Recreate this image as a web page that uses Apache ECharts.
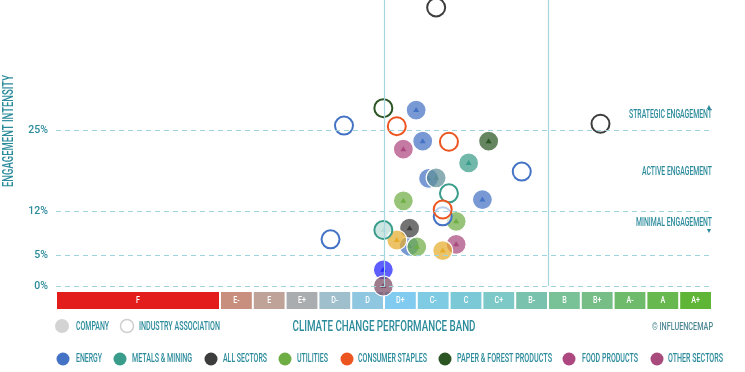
<!DOCTYPE html>
<html><head><meta charset="utf-8">
<script src="https://cdn.jsdelivr.net/npm/echarts@6/dist/echarts.min.js"></script>
<style>html,body{margin:0;padding:0;background:#fff}#c{width:745px;height:372px}</style>
</head><body><div id="c"></div>
<script>
// ---- data ----
const bandNames = ['F','E-','E','E+','D-','D','D+','C-','C','C+','B-','B','B+','A-','A','A+'];
const bandWidths = [5,1,1,1,1,1,1,1,1,1,1,1,1,1,1,1];
const bandColors = ['#e31c1c','#c98f7e','#bfa398','#a9adb0','#9fbfcd','#8fc7e1','#80cbef','#7fcbe4','#7bc9d6','#7cc9c8','#79c2ad','#79c197','#76be86','#6ebb6b','#66b84f','#5fb536'];
const yTicks = [0,5,12,25];
const vLines = [10,15];

const sectorNames = ['ENERGY','METALS & MINING','ALL SECTORS','UTILITIES','CONSUMER STAPLES','PAPER & FOREST PRODUCTS','FOOD PRODUCTS','OTHER SECTORS'];
const sectorColors = ['#4472c4','#3a9d8b','#3d3d3d','#6fad45','#ec5520','#2b5624','#ad4780','#a84a7c'];

// [band position, engagement intensity %]
const energyCompany = [[10.98,28.3],[11.18,23.3],[11.36,17.3],[13.0,13.9],[10.77,6.45]];
const energyAssoc = [[8.78,25.8],[14.2,18.4],[11.79,11.2],[8.37,7.5]];
const metalsCompany = [[12.58,19.8],[9.98,9.0]];
const metalsAssoc = [[11.98,14.9],[9.98,9.0]];
const allCompany = [[10.78,9.3]];
const allAssoc = [[11.59,44.8],[16.6,26.1]];
const utilitiesCompany = [[10.59,13.7],[12.2,10.4],[11.0,6.3]];
const consumerAssoc = [[10.39,25.7],[11.98,23.2],[11.79,12.3]];
const paperCompany = [[13.19,23.3]];
const paperAssoc = [[9.98,28.6]];
const foodCompany = [[10.59,22.0]];
const otherCompany = [[12.2,6.7]];
const goldCompany = [[10.39,7.4],[11.79,5.7]];
const blueCompany = [[9.98,2.6]];
const mauveCompany = [[9.98,0]];
const greyTealCompany = [[11.59,17.4]];

// ---- rendering ----
const FONT = 'Roboto, "Liberation Sans", sans-serif';
const W = '500 ';
const TEAL = '#2b8b9b';
const mctx = document.createElement('canvas').getContext('2d');
function T(text, x, y, size, width, align, color, rotation){
  const f = W + size + 'px ' + FONT;
  mctx.font = f;
  const s = width / mctx.measureText(text).width;
  return {type:'text', x:x, y:y, scaleX:s, rotation:rotation||0, silent:true,
    style:{x:0, y:0, text:text, fill:color||TEAL, font:f, align:align||'left', verticalAlign:'middle'}};
}

function hexA(hex, a){
  const n = parseInt(hex.slice(1),16);
  return 'rgba('+((n>>16)&255)+','+((n>>8)&255)+','+(n&255)+','+a+')';
}
function companyRender(color, fillA){
  return function(params, api){
    const p = api.coord([api.value(0), api.value(1)]);
    return {type:'group', children:[
      {type:'circle', shape:{cx:p[0], cy:p[1], r:10}, style:{fill:hexA(color, fillA), stroke:'#fff', lineWidth:1.2}},
      {type:'polygon', shape:{points:[[p[0],p[1]-3],[p[0]-3,p[1]+2],[p[0]+3,p[1]+2]]}, style:{fill:color}}
    ]};
  };
}
function assocRender(color){
  return function(params, api){
    const p = api.coord([api.value(0), api.value(1)]);
    return {type:'circle', shape:{cx:p[0], cy:p[1], r:9}, style:{fill:'rgba(255,255,255,0.65)', stroke:color, lineWidth:2}};
  };
}
function cSeries(name, data, color){
  return {type:'custom', name:name, data:data, xAxisIndex:0, yAxisIndex:0, clip:false,
    itemStyle:{color:color}, renderItem:companyRender(color, 0.72), z:3};
}
function aSeries(name, data, color){
  return {type:'custom', name:name, data:data, xAxisIndex:0, yAxisIndex:0, clip:false,
    itemStyle:{color:color}, renderItem:assocRender(color), z:4};
}

const bandData = [];
let acc = 0;
bandNames.forEach((n,i)=>{ bandData.push([acc, acc+bandWidths[i], n, bandColors[i]]); acc += bandWidths[i]; });

const series = [
  {type:'line', data:[], xAxisIndex:0, yAxisIndex:0, silent:true,
    markLine:{symbol:'none', silent:true,
      lineStyle:{color:'#9fd3de', type:[5,4], width:1},
      label:{position:'start', formatter:'{c}%', color:TEAL, fontFamily:FONT, fontWeight:500, fontSize:10.5, distance:8},
      data: yTicks.map(v=>({yAxis:v}))}},
  {type:'line', data:[], xAxisIndex:0, yAxisIndex:0, silent:true,
    markLine:{symbol:'none', silent:true,
      lineStyle:{color:'#a6d6df', type:'solid', width:1.2},
      label:{show:false},
      data: vLines.map(v=>({xAxis:v}))}},
  cSeries('energyC', energyCompany, sectorColors[0]),
  cSeries('metalsC', metalsCompany, sectorColors[1]),
  cSeries('allC', allCompany, sectorColors[2]),
  cSeries('utilC', utilitiesCompany, sectorColors[3]),
  cSeries('paperC', paperCompany, sectorColors[5]),
  cSeries('foodC', foodCompany, sectorColors[6]),
  cSeries('otherC', otherCompany, sectorColors[7]),
  cSeries('gold', goldCompany, '#e6ac2e'),
  cSeries('blue', blueCompany, '#2020ff'),
  cSeries('mauve', mauveCompany, '#7a4862'),
  cSeries('greyteal', greyTealCompany, '#5e8f98'),
  aSeries('energyA', energyAssoc, sectorColors[0]),
  aSeries('metalsA', metalsAssoc, sectorColors[1]),
  aSeries('allA', allAssoc, sectorColors[2]),
  aSeries('consA', consumerAssoc, sectorColors[4]),
  aSeries('paperA', paperAssoc, sectorColors[5]),
  {type:'custom', data:bandData, xAxisIndex:1, yAxisIndex:1, silent:true,
    renderItem:function(params, api){
      const a = api.coord([api.value(0), 1]);
      const b = api.coord([api.value(1), 0]);
      const idx = params.dataIndex;
      return {type:'group', children:[
        {type:'rect', shape:{x:a[0]+1, y:a[1], width:b[0]-a[0]-2, height:b[1]-a[1]}, style:{fill:bandData[idx][3]}},
        {type:'text', x:(a[0]+b[0])/2, y:(a[1]+b[1])/2, scaleX:0.75,
          style:{x:0, y:0, text:bandData[idx][2], fill:'#fff', font:W+'9.5px '+FONT, align:'center', verticalAlign:'middle'}}
      ]};
    }}
];

// sector legend (layout positions of legend swatches/labels)
const legendCircleX = [63,120,211,285,347,445,569,657];
const legendTextX = [76,132,223,297,358,457,582,668];
const legendTextW = [26,60,44,31,69,95,56,55];
const graphics = [
  T('ENGAGEMENT INTENSITY', 9, 131, 15, 112, 'center', TEAL, Math.PI/2),
  T('STRATEGIC ENGAGEMENT', 712, 115, 12, 83, 'right'),
  {type:'text', x:709, y:107, style:{text:'▲', fill:TEAL, font:'7px '+FONT, align:'center', verticalAlign:'middle'}},
  T('ACTIVE ENGAGEMENT', 712, 172, 12, 70, 'right'),
  T('MINIMAL ENGAGEMENT', 712, 223, 12, 76, 'right'),
  {type:'text', x:709, y:231, style:{text:'▼', fill:TEAL, font:'7px '+FONT, align:'center', verticalAlign:'middle'}},
  {type:'circle', shape:{cx:62, cy:326, r:7}, style:{fill:'#d3d3d3'}},
  T('COMPANY', 76, 327, 12, 33, 'left'),
  {type:'circle', shape:{cx:127, cy:326, r:6.5}, style:{fill:'#fff', stroke:'#cfcfcf', lineWidth:1.5}},
  T('INDUSTRY ASSOCIATION', 139, 327, 12, 81, 'left'),
  T('CLIMATE CHANGE PERFORMANCE BAND', 384, 327, 14.5, 183, 'center'),
  T('© INFLUENCEMAP', 713, 327, 11, 61, 'right', '#4d8893')
];
sectorNames.forEach((n,i)=>{
  graphics.push({type:'circle', shape:{cx:legendCircleX[i], cy:359, r:6.5}, style:{fill:sectorColors[i]}});
  graphics.push(T(n, legendTextX[i], 359, 12, legendTextW[i], 'left'));
});

const chart = echarts.init(document.getElementById('c'), null, {renderer:'canvas'});
chart.setOption({
  animation:false,
  textStyle:{fontFamily:FONT},
  grid:[{left:56, width:656, top:0, height:286}, {left:56, width:656, top:292, height:17}],
  xAxis:[
    {type:'value', min:0, max:20, gridIndex:0, show:false},
    {type:'value', min:0, max:20, gridIndex:1, show:false}
  ],
  yAxis:[
    {type:'value', min:0, max:46, gridIndex:0, show:false},
    {type:'value', min:0, max:1, gridIndex:1, show:false}
  ],
  graphic: graphics,
  series: series
});
</script></body></html>
